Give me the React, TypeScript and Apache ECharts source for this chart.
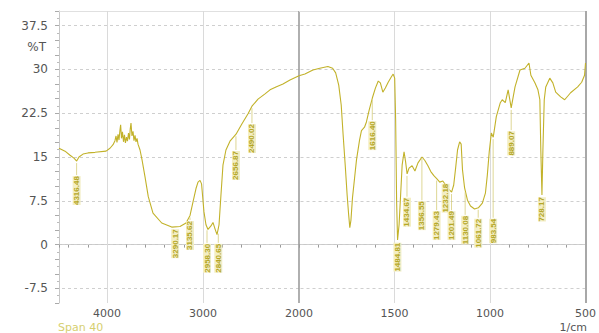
import { useEffect, useRef } from "react";
import * as echarts from "echarts";

// Spectrum trace (wavenumber in 1/cm, transmittance in %T)
const wavenumbers = [
  4500, 4437, 4385, 4344, 4316, 4292, 4250, 4198, 4125, 4010, 3969, 3937,
  3917, 3906, 3896, 3885, 3875, 3865, 3858, 3849, 3839, 3828, 3818, 3808,
  3797, 3787, 3776, 3766, 3758, 3750, 3740, 3729, 3719, 3708, 3698, 3687,
  3677, 3656, 3635, 3604, 3570, 3521, 3430, 3326, 3240, 3177, 3135, 3104,
  3073, 3052, 3031, 3015, 3005, 2990, 2969, 2948, 2917, 2896, 2875, 2854,
  2833, 2813, 2792, 2761, 2719, 2656, 2594, 2531, 2490, 2427, 2354, 2302,
  2240, 2167, 2094, 2000, 1969, 1927, 1891, 1849, 1824, 1808, 1792, 1779,
  1769, 1758, 1748, 1740, 1734, 1728, 1720, 1709, 1699, 1683, 1673, 1657,
  1647, 1632, 1616, 1600, 1585, 1574, 1561, 1548, 1533, 1517, 1507, 1499,
  1494, 1489, 1484, 1476, 1468, 1460, 1450, 1442, 1434, 1424, 1408, 1393,
  1377, 1356, 1341, 1325, 1310, 1294, 1279, 1263, 1247, 1232, 1216, 1201,
  1190, 1180, 1170, 1159, 1151, 1144, 1133, 1118, 1102, 1081, 1061, 1040,
  1024, 1014, 1004, 993, 983, 967, 946, 936, 920, 905, 889, 869,
  843, 817, 796, 786, 765, 749, 739, 734, 728, 723, 716, 708,
  687, 671, 656, 630, 609, 578, 541, 520, 505, 500,
];
const transmittance = [
  16.5, 16.0, 15.3, 14.8, 14.3, 15.0, 15.5, 15.7, 15.8, 16.0, 16.5, 17.1,
  17.8, 18.6, 17.5, 18.9, 17.9, 19.6, 20.5, 18.2, 19.3, 17.6, 18.8, 17.4,
  18.4, 17.7, 19.1, 18.0, 19.8, 20.8, 18.6, 19.4, 17.8, 18.7, 17.6, 18.2,
  17.2, 16.2, 14.5, 11.6, 8.2, 5.4, 3.7, 3.0, 3.1, 3.7, 5.0, 7.3,
  9.6, 10.7, 11.0, 10.4, 8.5, 5.6, 3.4, 2.6, 3.2, 3.8, 2.7, 1.7,
  3.4, 8.5, 13.6, 16.2, 17.7, 18.9, 20.7, 22.4, 23.7, 24.9, 25.8, 26.5,
  27.0, 27.5, 28.2, 28.9, 29.2, 29.9, 30.2, 30.5, 30.2, 29.4, 27.3, 23.9,
  18.8, 13.6, 8.5, 5.1, 2.9, 4.2, 8.0, 11.4, 14.5, 17.9, 19.5, 20.1,
  21.0, 23.1, 25.1, 26.8, 28.0, 27.7, 26.1, 26.8, 27.8, 28.7, 29.2, 28.5,
  21.3, 7.6, 0.8, 3.4, 8.5, 13.6, 15.9, 14.2, 12.1, 13.1, 13.5, 12.6,
  14.0, 15.0, 14.4, 13.5, 12.5, 11.8, 11.3, 10.7, 10.9, 10.2, 9.5, 9.0,
  10.2, 13.1, 16.2, 17.6, 17.2, 12.8, 9.7, 7.6, 6.6, 6.1, 6.3, 7.1,
  8.8, 11.9, 15.9, 19.1, 18.4, 21.9, 24.3, 24.8, 24.3, 26.5, 23.4, 27.0,
  29.9, 30.2, 31.1, 29.0, 27.7, 26.5, 24.8, 16.2, 8.5, 16.2, 24.8, 27.0,
  28.5, 27.7, 26.1, 25.3, 24.8, 26.0, 27.0, 27.8, 29.0, 31.1,
];

// Peak annotations
const peakWavenumbers = [
  4316.48, 3290.17, 3135.62, 2958.3, 2840.65, 2656.87, 2490.02, 1616.4,
  1484.81, 1434.67, 1356.55, 1279.43, 1232.18, 1201.49, 1130.08, 1061.72,
  983.54, 889.07, 728.17,
];
const peakTransmittance = [
  14.3, 3.0, 5.0, 2.8, 2.2, 18.9, 23.7, 25.1, 0.8, 12.1, 15.0, 11.3, 10.2,
  9.0, 9.3, 6.3, 18.4, 23.4, 8.5,
];
const peakLabelLevels = [
  11.9, 2.8, 4.2, 0.3, 0.3, 16.2, 20.8, 21.3, 0.5, 8.2, 7.6, 5.9, 10.6, 5.9,
  5.1, 4.6, 4.6, 19.6, 8.3,
];
const peakLabels = peakWavenumbers.map((w) => w.toFixed(2));

const yTickLabels = [-7.5, 0, 7.5, 15, 22.5, 30, 37.5];
const xTickLabelsHigh = [4000, 3000];
const xTickLabelsLow = [2000, 1500, 1000, 500];

const FONT = "DejaVu Sans";
const LINE_COLOR = "#c2b22a";

export default function App() {
  const ref = useRef<HTMLDivElement>(null);
  useEffect(() => {
    const chart = echarts.init(ref.current!, null, { renderer: "svg" });

    const points = wavenumbers.map((w, i) => [w, transmittance[i]]);
    const high = points.filter((d) => d[0] >= 2000);
    const low = points.filter((d) => d[0] <= 2000);

    const peaks = peakWavenumbers.map((w, i) => ({
      w,
      t: peakTransmittance[i],
      level: peakLabelLevels[i],
      label: peakLabels[i],
    }));
    const peaksHigh = peaks.filter((p) => p.w >= 2000);
    const peaksLow = peaks.filter((p) => p.w < 2000);

    const hLines = yTickLabels.map((v) => ({
      yAxis: v,
      lineStyle: { color: "#cfcfcf", type: [3, 3], width: 1 },
    }));
    const topLine = {
      yAxis: 40,
      lineStyle: { color: "#e0e0e0", type: "solid", width: 1 },
    };

    const markLineBase = {
      silent: true,
      symbol: ["none", "none"],
      label: { show: false },
      animation: false,
      z: 1,
    };

    const labelSeries = (idx: number, items: any[]) => ({
      type: "custom",
      xAxisIndex: idx,
      yAxisIndex: idx,
      data: items.map((p) => [p.w, p.t, p.level]),
      clip: false,
      z: 4,
      silent: true,
      renderItem: (params: any, api: any) => {
        const w = api.value(0);
        const t = api.value(1);
        const lv = api.value(2);
        const p = api.coord([w, t]);
        const q = api.coord([w, lv]);
        const text = items[params.dataIndex].label;
        const children: any[] = [];
        if (q[1] - p[1] > 4) {
          children.push({
            type: "line",
            shape: { x1: p[0], y1: p[1] + 2, x2: q[0], y2: q[1] },
            style: { stroke: "#d6cd7a", lineWidth: 0.8 },
          });
        }
        children.push({
          type: "text",
          x: q[0],
          y: q[1] + 1,
          rotation: Math.PI / 2,
          style: {
            text,
            align: "right",
            verticalAlign: "middle",
            fontSize: 8,
            fontFamily: "Liberation Sans",
            fontWeight: "bold",
            fill: "#b5a727",
            backgroundColor: "#f3eec4",
          },
        });
        return { type: "group", children };
      },
    });

    const xAxisCommon = {
      type: "value",
      inverse: true,
      splitLine: { show: false },
      axisLine: { show: true, lineStyle: { color: "#c8c8c8", width: 1 } },
      axisTick: { show: true, length: 3, lineStyle: { color: "#9a9a9a" } },
      axisLabel: {
        margin: 5,
        fontSize: 11,
        fontFamily: FONT,
        color: "#555",
      },
    };

    const option: any = {
      animation: false,
      backgroundColor: "#ffffff",
      grid: [
        { left: 59, top: 11, width: 240, height: 292 },
        { left: 299, top: 11, width: 289, height: 292 },
      ],
      xAxis: [
        {
          ...xAxisCommon,
          gridIndex: 0,
          min: 2000,
          max: 4500,
          interval: 200,
          axisLabel: {
            ...xAxisCommon.axisLabel,
            formatter: (v: number) =>
              xTickLabelsHigh.includes(v) ? String(v) : "",
          },
        },
        {
          ...xAxisCommon,
          gridIndex: 1,
          min: 500,
          max: 2000,
          interval: 100,
          axisLabel: {
            ...xAxisCommon.axisLabel,
            formatter: (v: number) =>
              xTickLabelsLow.includes(v) ? String(v) : "",
          },
        },
      ],
      yAxis: [
        {
          type: "value",
          gridIndex: 0,
          min: -10,
          max: 40,
          interval: 2.5,
          splitLine: { show: false },
          axisLine: { show: true, lineStyle: { color: "#c8c8c8" } },
          axisTick: { show: true, length: 4, lineStyle: { color: "#aaa" } },
          minorTick: {
            show: true,
            splitNumber: 2,
            length: 2,
            lineStyle: { color: "#bbb" },
          },
          axisLabel: {
            margin: 11,
            fontSize: 12,
            fontFamily: FONT,
            color: "#555",
            formatter: (v: number) => {
              const hit = yTickLabels.find((t) => Math.abs(t - v) < 1e-6);
              return hit === undefined ? "" : String(hit);
            },
          },
        },
        {
          type: "value",
          gridIndex: 1,
          min: -10,
          max: 40,
          show: false,
        },
      ],
      series: [
        {
          type: "line",
          xAxisIndex: 0,
          yAxisIndex: 0,
          data: high,
          showSymbol: false,
          symbol: "none",
          z: 3,
          lineStyle: { color: LINE_COLOR, width: 1.1 },
          markLine: {
            ...markLineBase,
            data: [
              ...hLines,
              topLine,
              ...xTickLabelsHigh.map((v) => ({
                xAxis: v,
                lineStyle: { color: "#dadada", type: "solid", width: 1 },
              })),
              {
                xAxis: 2000,
                lineStyle: { color: "#9c9c9c", type: "solid", width: 1.6 },
              },
            ],
          },
        },
        {
          type: "line",
          xAxisIndex: 1,
          yAxisIndex: 1,
          data: low,
          showSymbol: false,
          symbol: "none",
          z: 3,
          lineStyle: { color: LINE_COLOR, width: 1.1 },
          markLine: {
            ...markLineBase,
            data: [
              ...hLines,
              topLine,
              ...xTickLabelsLow
                .filter((v) => v !== 2000 && v !== 500)
                .map((v) => ({
                  xAxis: v,
                  lineStyle: { color: "#dadada", type: "solid", width: 1 },
                })),
              {
                xAxis: 500,
                lineStyle: { color: "#a8a8a8", type: "solid", width: 2 },
              },
            ],
          },
        },
        labelSeries(0, peaksHigh),
        labelSeries(1, peaksLow),
      ],
      graphic: [
        {
          type: "text",
          x: 46,
          y: 47,
          style: {
            text: "%T",
            align: "right",
            verticalAlign: "middle",
            fontSize: 12,
            fontFamily: FONT,
            fill: "#555",
          },
        },
        {
          type: "text",
          x: 58,
          y: 327,
          style: {
            text: "Span 40",
            align: "left",
            verticalAlign: "middle",
            fontSize: 11,
            fontFamily: FONT,
            fill: "#d6cf70",
          },
        },
        {
          type: "text",
          x: 587,
          y: 327,
          style: {
            text: "1/cm",
            align: "right",
            verticalAlign: "middle",
            fontSize: 11,
            fontFamily: FONT,
            fill: "#555",
          },
        },
      ],
    };

    chart.setOption(option);
    return () => chart.dispose();
  }, []);

  return (
    <div
      ref={ref}
      style={{ position: "fixed", left: 0, top: 0, width: 599, height: 333 }}
    />
  );
}
